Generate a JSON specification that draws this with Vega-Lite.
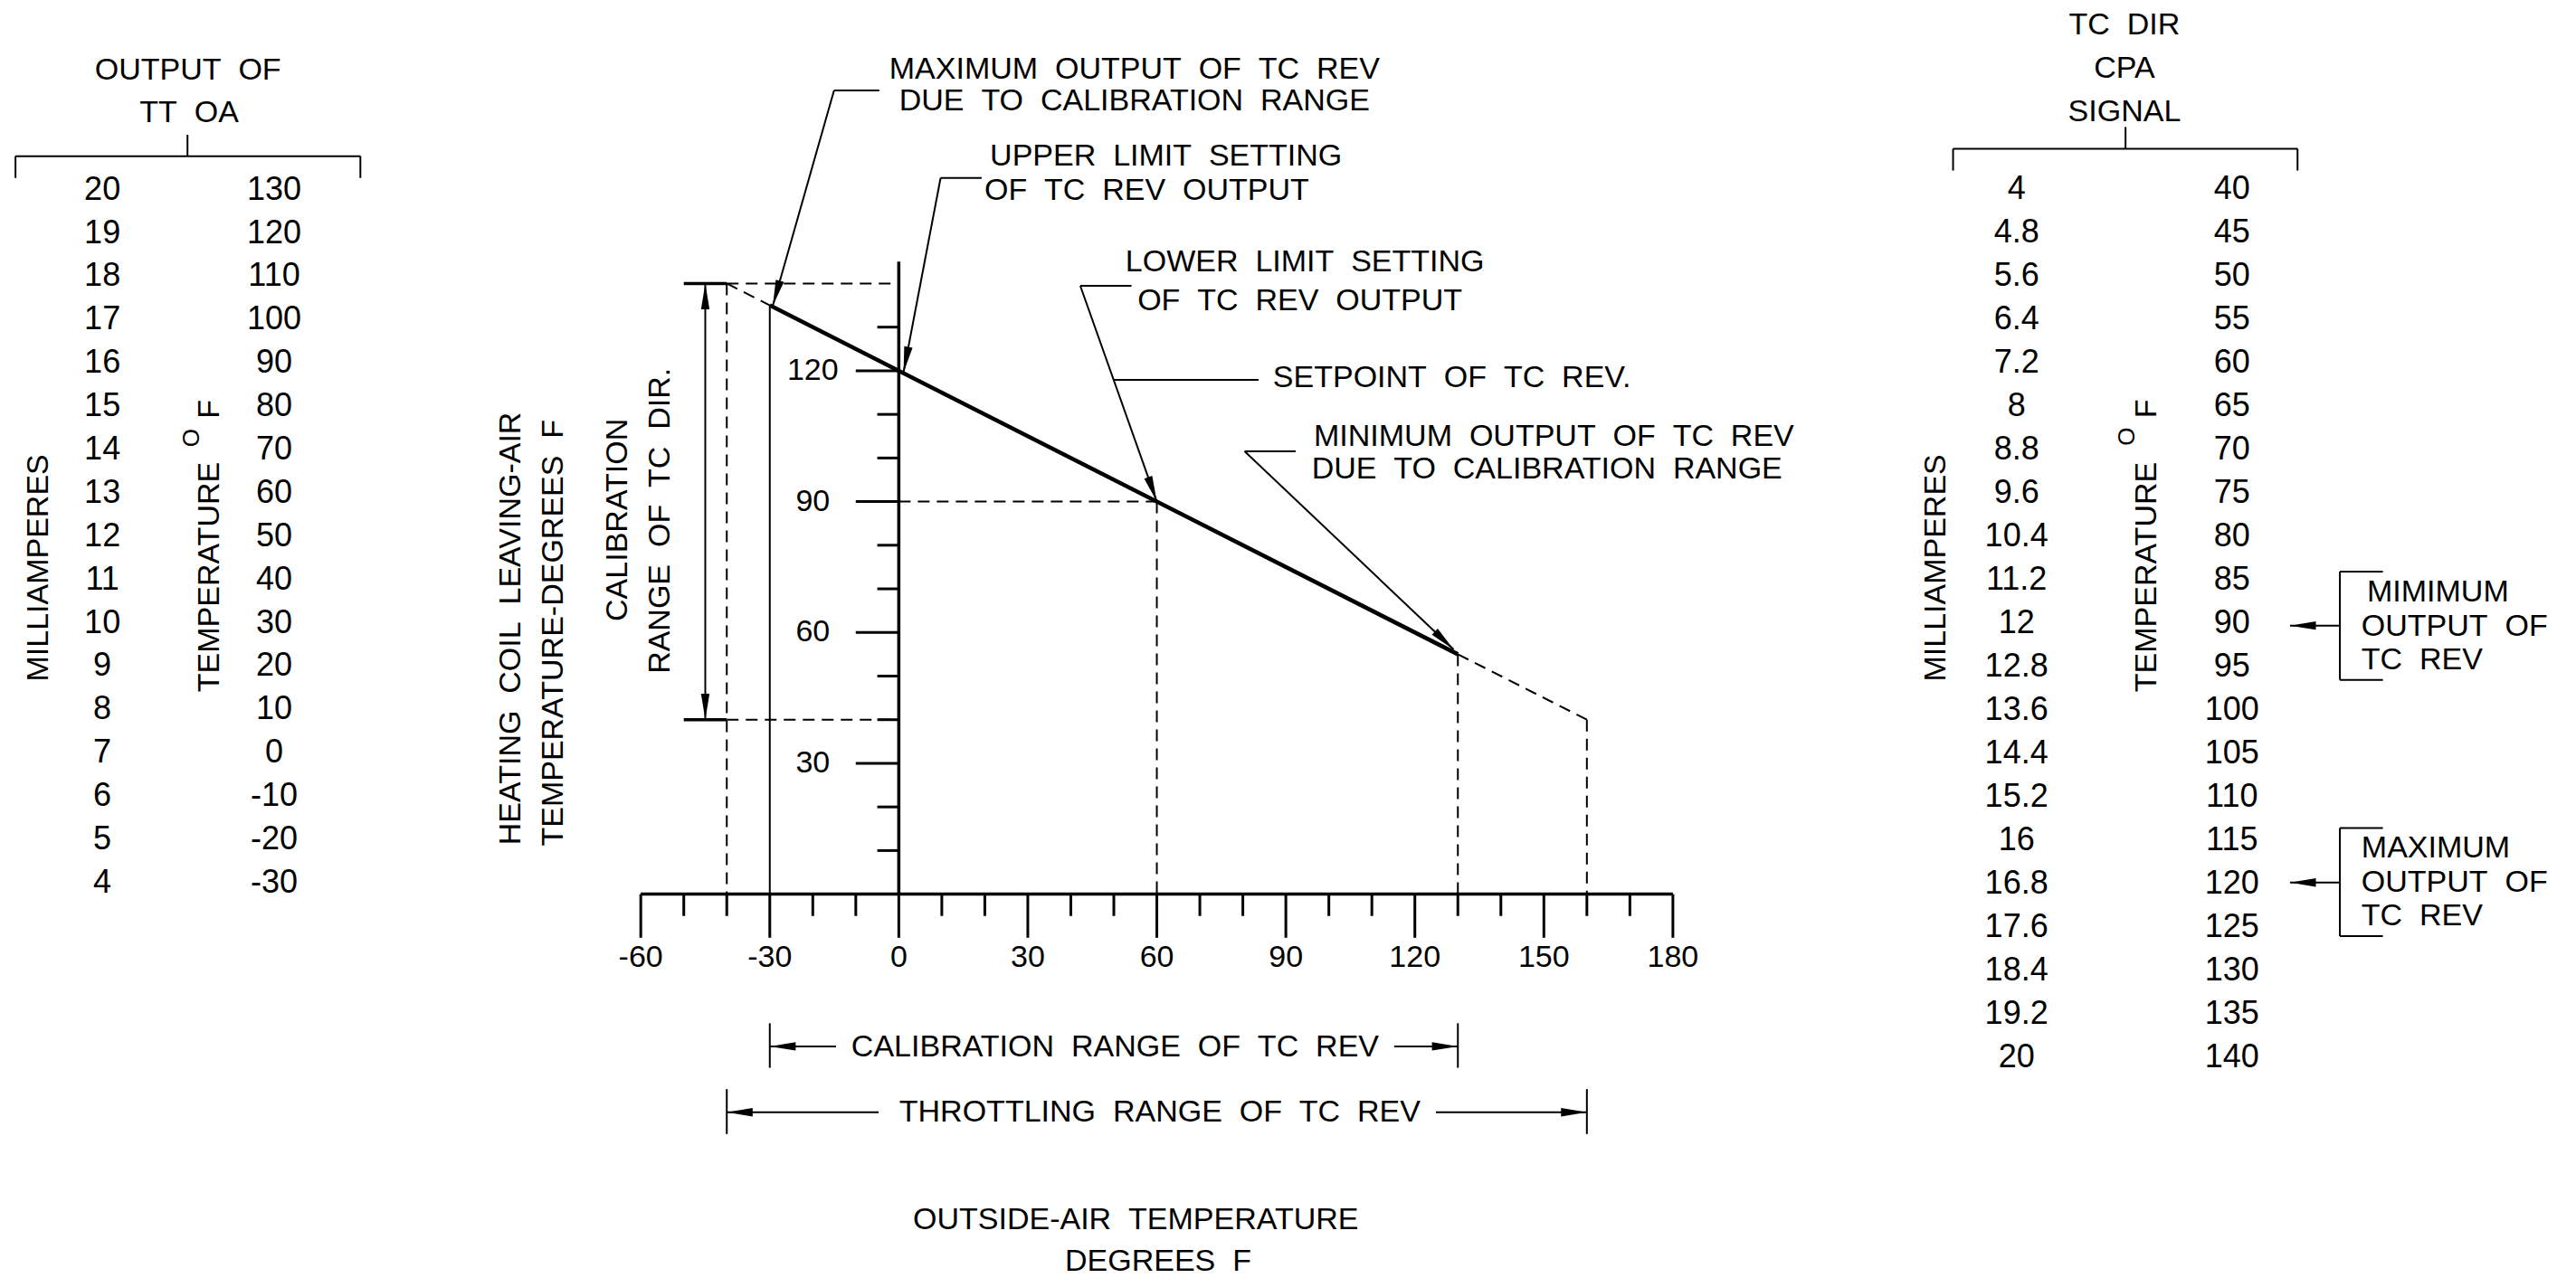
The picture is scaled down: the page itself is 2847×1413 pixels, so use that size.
{
  "$schema": "https://vega.github.io/schema/vega-lite/v6.json",
  "width": 2847,
  "height": 1413,
  "autosize": {"type": "none"},
  "padding": 0,
  "background": "white",
  "config": {
    "view": {"stroke": null},
    "mark": {"color": "black"},
    "text": {"font": "Liberation Sans", "fontSize": 34, "color": "black", "baseline": "middle"}
  },
  "datasets": {
    "xticks": [{"x":-60},{"x":-50},{"x":-40},{"x":-30},{"x":-20},{"x":-10},{"x":0},{"x":10},{"x":20},{"x":30},{"x":40},{"x":50},{"x":60},{"x":70},{"x":80},{"x":90},{"x":100},{"x":110},{"x":120},{"x":130},{"x":140},{"x":150},{"x":160},{"x":170},{"x":180}],
    "yticks": [{"y":10},{"y":20},{"y":30},{"y":40},{"y":50},{"y":60},{"y":70},{"y":80},{"y":90},{"y":100},{"y":110},{"y":120},{"y":130}],
    "setpoint": [{"x":-30,"y":135},{"x":130,"y":55}],
    "dashed": [
      {"x":-40,"y":140,"x2":-30,"y2":135},
      {"x":130,"y":55,"x2":160,"y2":40},
      {"x":-40,"y":140,"x2":0,"y2":140},
      {"x":-40,"y":40,"x2":0,"y2":40},
      {"x":0,"y":90,"x2":60,"y2":90},
      {"x":-40,"y":140,"x2":-40,"y2":0},
      {"x":60,"y":90,"x2":60,"y2":0},
      {"x":130,"y":55,"x2":130,"y2":0},
      {"x":160,"y":40,"x2":160,"y2":0}
    ],
    "axisLines": [
      {"x":-60,"y":0,"x2":180,"y2":0},
      {"x":0,"y":0,"x2":0,"y2":145},
      {"x":-50,"y":140,"x2":-40,"y2":140},
      {"x":-50,"y":40,"x2":-40,"y2":40}
    ],
    "leaders": [
      {"x":-30,"y":135,"x2":-30,"y2":0},
      {"x":-45,"y":40,"x2":-45,"y2":140},
      {"x":-15.06,"y":184.26,"x2":-4.54,"y2":184.26},
      {"x":-15.06,"y":184.26,"x2":-29.3,"y2":134.9},
      {"x":9.72,"y":164.21,"x2":19.27,"y2":164.21},
      {"x":9.72,"y":164.21,"x2":1.1,"y2":119.63},
      {"x":42.2,"y":139.47,"x2":54.1,"y2":139.47},
      {"x":42.2,"y":139.47,"x2":60,"y2":90},
      {"x":50.0,"y":117.91,"x2":83.65,"y2":117.91},
      {"x":80.42,"y":101.53,"x2":92.28,"y2":101.53},
      {"x":80.42,"y":101.53,"x2":129,"y2":56.1},
      {"x":-30,"y":-29.6,"x2":-30,"y2":-39.8},
      {"x":130,"y":-29.6,"x2":130,"y2":-39.8},
      {"x":-30,"y":-34.9,"x2":-14.6,"y2":-34.9},
      {"x":115.2,"y":-34.9,"x2":130,"y2":-34.9},
      {"x":-40,"y":-44.7,"x2":-40,"y2":-55.0},
      {"x":160,"y":-44.7,"x2":160,"y2":-55.0},
      {"x":-40,"y":-50,"x2":-4.7,"y2":-50},
      {"x":124.9,"y":-50,"x2":160,"y2":-50},
      {"x":-165.4,"y":174.1,"x2":-165.4,"y2":169.2},
      {"x":-205.4,"y":169.2,"x2":-125.2,"y2":169.2},
      {"x":-205.4,"y":169.2,"x2":-205.4,"y2":164.2},
      {"x":-125.2,"y":169.2,"x2":-125.2,"y2":164.2},
      {"x":285.25,"y":175.9,"x2":285.25,"y2":170.9},
      {"x":245.15,"y":170.9,"x2":325.25,"y2":170.9},
      {"x":245.15,"y":170.9,"x2":245.15,"y2":165.9},
      {"x":325.25,"y":170.9,"x2":325.25,"y2":165.9},
      {"x":335.1,"y":73.95,"x2":335.1,"y2":49.13},
      {"x":335.1,"y":73.95,"x2":345.1,"y2":73.95},
      {"x":335.1,"y":49.13,"x2":345.1,"y2":49.13},
      {"x":323.5,"y":61.57,"x2":335.1,"y2":61.57},
      {"x":335.1,"y":15.18,"x2":335.1,"y2":-9.62},
      {"x":335.1,"y":15.18,"x2":345.1,"y2":15.18},
      {"x":335.1,"y":-9.62,"x2":345.1,"y2":-9.62},
      {"x":323.5,"y":2.66,"x2":335.1,"y2":2.66}
    ],
    "arrows": [
      {"x":-29.3,"y":134.9,"angle":195.9},
      {"x":1.1,"y":119.63,"angle":190.8},
      {"x":60,"y":90,"angle":160.5},
      {"x":129,"y":56.1,"angle":133.5},
      {"x":-45,"y":140,"angle":0},
      {"x":-45,"y":40,"angle":180},
      {"x":-30,"y":-34.9,"angle":270},
      {"x":130,"y":-34.9,"angle":90},
      {"x":-40,"y":-50,"angle":270},
      {"x":160,"y":-50,"angle":90},
      {"x":323.5,"y":61.57,"angle":270},
      {"x":323.5,"y":2.66,"angle":270}
    ],
    "centerText": [
      {"x":-165.3,"y":188.9,"text":"OUTPUT\u00a0\u00a0OF"},
      {"x":-165.0,"y":179.1,"text":"TT\u00a0\u00a0OA"},
      {"x":54.8,"y":189.1,"text":"MAXIMUM\u00a0\u00a0OUTPUT\u00a0\u00a0OF\u00a0\u00a0TC\u00a0\u00a0REV"},
      {"x":54.8,"y":181.8,"text":"DUE\u00a0\u00a0TO\u00a0\u00a0CALIBRATION\u00a0\u00a0RANGE"},
      {"x":50.3,"y":-35.1,"text":"CALIBRATION\u00a0\u00a0RANGE\u00a0\u00a0OF\u00a0\u00a0TC\u00a0\u00a0REV"},
      {"x":60.7,"y":-50.0,"text":"THROTTLING\u00a0\u00a0RANGE\u00a0\u00a0OF\u00a0\u00a0TC\u00a0\u00a0REV"},
      {"x":55.1,"y":-74.8,"text":"OUTSIDE-AIR\u00a0\u00a0TEMPERATURE"},
      {"x":60.3,"y":-84.2,"text":"DEGREES\u00a0\u00a0F"},
      {"x":285,"y":199.2,"text":"TC\u00a0\u00a0DIR"},
      {"x":285,"y":189.2,"text":"CPA"},
      {"x":285,"y":179.3,"text":"SIGNAL"}
    ],
    "leftText": [
      {"x":21.2,"y":169.2,"text":"UPPER\u00a0\u00a0LIMIT\u00a0\u00a0SETTING"},
      {"x":19.9,"y":161.3,"text":"OF\u00a0\u00a0TC\u00a0\u00a0REV\u00a0\u00a0OUTPUT"},
      {"x":52.7,"y":144.9,"text":"LOWER\u00a0\u00a0LIMIT\u00a0\u00a0SETTING"},
      {"x":55.5,"y":136.0,"text":"OF\u00a0\u00a0TC\u00a0\u00a0REV\u00a0\u00a0OUTPUT"},
      {"x":87.0,"y":118.4,"text":"SETPOINT\u00a0\u00a0OF\u00a0\u00a0TC\u00a0\u00a0REV."},
      {"x":96.5,"y":104.8,"text":"MINIMUM\u00a0\u00a0OUTPUT\u00a0\u00a0OF\u00a0\u00a0TC\u00a0\u00a0REV"},
      {"x":96.0,"y":97.4,"text":"DUE\u00a0\u00a0TO\u00a0\u00a0CALIBRATION\u00a0\u00a0RANGE"},
      {"x":341.4,"y":69.2,"text":"MIMIMUM"},
      {"x":340.1,"y":61.4,"text":"OUTPUT\u00a0\u00a0OF"},
      {"x":340.1,"y":53.6,"text":"TC\u00a0\u00a0REV"},
      {"x":340.1,"y":10.4,"text":"MAXIMUM"},
      {"x":340.1,"y":2.7,"text":"OUTPUT\u00a0\u00a0OF"},
      {"x":340.1,"y":-5.1,"text":"TC\u00a0\u00a0REV"}
    ],
    "rotText": [
      {"x":-199.9,"y":74.8,"text":"MILLIAMPERES"},
      {"x":-160.1,"y":72.7,"text":"TEMPERATURE"},
      {"x":-160.2,"y":111.2,"text":"F"},
      {"x":-90.1,"y":60.9,"text":"HEATING\u00a0\u00a0COIL\u00a0\u00a0LEAVING-AIR"},
      {"x":-80.2,"y":59.9,"text":"TEMPERATURE-DEGREES\u00a0\u00a0F"},
      {"x":-65.3,"y":85.8,"text":"CALIBRATION"},
      {"x":-55.4,"y":85.6,"text":"RANGE\u00a0\u00a0OF\u00a0\u00a0TC\u00a0\u00a0DIR."},
      {"x":241.2,"y":74.8,"text":"MILLIAMPERES"},
      {"x":290.3,"y":72.7,"text":"TEMPERATURE"},
      {"x":290.3,"y":111.3,"text":"F"}
    ],
    "degO": [
      {"x":-164.3,"y":104.6,"text":"O"},
      {"x":285.6,"y":104.9,"text":"O"}
    ],
    "ttOA": [
      {"mA":20,"degF":130},{"mA":19,"degF":120},{"mA":18,"degF":110},{"mA":17,"degF":100},
      {"mA":16,"degF":90},{"mA":15,"degF":80},{"mA":14,"degF":70},{"mA":13,"degF":60},
      {"mA":12,"degF":50},{"mA":11,"degF":40},{"mA":10,"degF":30},{"mA":9,"degF":20},
      {"mA":8,"degF":10},{"mA":7,"degF":0},{"mA":6,"degF":-10},{"mA":5,"degF":-20},{"mA":4,"degF":-30}
    ],
    "cpa": [
      {"mA":4,"degF":40},{"mA":4.8,"degF":45},{"mA":5.6,"degF":50},{"mA":6.4,"degF":55},
      {"mA":7.2,"degF":60},{"mA":8,"degF":65},{"mA":8.8,"degF":70},{"mA":9.6,"degF":75},
      {"mA":10.4,"degF":80},{"mA":11.2,"degF":85},{"mA":12,"degF":90},{"mA":12.8,"degF":95},
      {"mA":13.6,"degF":100},{"mA":14.4,"degF":105},{"mA":15.2,"degF":110},{"mA":16,"degF":115},
      {"mA":16.8,"degF":120},{"mA":17.6,"degF":125},{"mA":18.4,"degF":130},{"mA":19.2,"degF":135},
      {"mA":20,"degF":140}
    ]
  },
  "layer": [
    {
      "layer": [
        {
          "data": {"name": "dashed"},
          "mark": {"type": "rule", "strokeDash": [13, 8], "strokeWidth": 2},
          "encoding": {
            "x": {"field": "x", "type": "quantitative", "scale": {"domain": [-209, 390], "nice": false, "zero": false}, "axis": null},
            "y": {"field": "y", "type": "quantitative", "scale": {"domain": [-88, 205], "nice": false, "zero": false}, "axis": null},
            "x2": {"field": "x2"}, "y2": {"field": "y2"}
          }
        },
        {
          "data": {"name": "leaders"},
          "mark": {"type": "rule", "strokeWidth": 2},
          "encoding": {
            "x": {"field": "x", "type": "quantitative"},
            "y": {"field": "y", "type": "quantitative"},
            "x2": {"field": "x2"}, "y2": {"field": "y2"}
          }
        },
        {
          "data": {"name": "axisLines"},
          "mark": {"type": "rule", "strokeWidth": 3.5},
          "encoding": {
            "x": {"field": "x", "type": "quantitative"},
            "y": {"field": "y", "type": "quantitative"},
            "x2": {"field": "x2"}, "y2": {"field": "y2"}
          }
        },
        {
          "data": {"name": "setpoint"},
          "mark": {"type": "line", "strokeWidth": 4.5},
          "encoding": {
            "x": {"field": "x", "type": "quantitative"},
            "y": {"field": "y", "type": "quantitative"}
          }
        },
        {
          "data": {"name": "xticks"},
          "transform": [{"filter": "datum.x % 30 === 0"}],
          "mark": {"type": "rule", "strokeWidth": 3},
          "encoding": {
            "x": {"field": "x", "type": "quantitative"},
            "y": {"datum": 0, "type": "quantitative"},
            "y2": {"datum": -10}
          }
        },
        {
          "data": {"name": "xticks"},
          "transform": [{"filter": "datum.x % 30 !== 0"}],
          "mark": {"type": "rule", "strokeWidth": 3},
          "encoding": {
            "x": {"field": "x", "type": "quantitative"},
            "y": {"datum": 0, "type": "quantitative"},
            "y2": {"datum": -5}
          }
        },
        {
          "data": {"name": "yticks"},
          "transform": [{"filter": "datum.y % 30 === 0"}],
          "mark": {"type": "rule", "strokeWidth": 3},
          "encoding": {
            "y": {"field": "y", "type": "quantitative"},
            "x": {"datum": 0, "type": "quantitative"},
            "x2": {"datum": -10}
          }
        },
        {
          "data": {"name": "yticks"},
          "transform": [{"filter": "datum.y % 30 !== 0"}],
          "mark": {"type": "rule", "strokeWidth": 3},
          "encoding": {
            "y": {"field": "y", "type": "quantitative"},
            "x": {"datum": 0, "type": "quantitative"},
            "x2": {"datum": -5}
          }
        },
        {
          "data": {"name": "xticks"},
          "transform": [{"filter": "datum.x % 30 === 0"}],
          "mark": {"type": "text", "align": "center"},
          "encoding": {
            "x": {"field": "x", "type": "quantitative"},
            "y": {"datum": -14.6, "type": "quantitative"},
            "text": {"field": "x", "type": "nominal"}
          }
        },
        {
          "data": {"name": "yticks"},
          "transform": [{"filter": "datum.y % 30 === 0"}],
          "mark": {"type": "text", "align": "center"},
          "encoding": {
            "y": {"field": "y", "type": "quantitative"},
            "x": {"datum": -20, "type": "quantitative"},
            "text": {"field": "y", "type": "nominal"}
          }
        },
        {
          "data": {"name": "arrows"},
          "mark": {"type": "point", "shape": "M0,0L-0.36,2.2L0.36,2.2Z", "filled": true, "size": 676, "opacity": 1, "strokeWidth": 0},
          "encoding": {
            "x": {"field": "x", "type": "quantitative"},
            "y": {"field": "y", "type": "quantitative"},
            "angle": {"field": "angle", "type": "quantitative", "scale": null}
          }
        },
        {
          "data": {"name": "centerText"},
          "mark": {"type": "text", "align": "center"},
          "encoding": {
            "x": {"field": "x", "type": "quantitative"},
            "y": {"field": "y", "type": "quantitative"},
            "text": {"field": "text", "type": "nominal"}
          }
        },
        {
          "data": {"name": "leftText"},
          "mark": {"type": "text", "align": "left"},
          "encoding": {
            "x": {"field": "x", "type": "quantitative"},
            "y": {"field": "y", "type": "quantitative"},
            "text": {"field": "text", "type": "nominal"}
          }
        },
        {
          "data": {"name": "rotText"},
          "mark": {"type": "text", "align": "center", "angle": 270},
          "encoding": {
            "x": {"field": "x", "type": "quantitative"},
            "y": {"field": "y", "type": "quantitative"},
            "text": {"field": "text", "type": "nominal"}
          }
        },
        {
          "data": {"name": "degO"},
          "mark": {"type": "text", "align": "center", "angle": 270, "fontSize": 26},
          "encoding": {
            "x": {"field": "x", "type": "quantitative"},
            "y": {"field": "y", "type": "quantitative"},
            "text": {"field": "text", "type": "nominal"}
          }
        }
      ]
    },
    {
      "data": {"name": "ttOA"},
      "layer": [
        {
          "mark": {"type": "text", "align": "center", "fontSize": 36},
          "encoding": {
            "y": {"field": "mA", "type": "quantitative", "scale": {"domain": [-5.13, 24.38], "nice": false, "zero": false}, "axis": null},
            "x": {"datum": -185.2, "type": "quantitative"},
            "text": {"field": "mA", "type": "nominal"}
          }
        },
        {
          "mark": {"type": "text", "align": "center", "fontSize": 36},
          "encoding": {
            "y": {"field": "mA", "type": "quantitative"},
            "x": {"datum": -145.25, "type": "quantitative"},
            "text": {"field": "degF", "type": "nominal"}
          }
        }
      ]
    },
    {
      "data": {"name": "cpa"},
      "layer": [
        {
          "mark": {"type": "text", "align": "center", "fontSize": 36},
          "encoding": {
            "y": {"field": "mA", "type": "quantitative", "scale": {"domain": [0.522, 24.07], "reverse": true, "nice": false, "zero": false}, "axis": null},
            "x": {"datum": 259.9, "type": "quantitative"},
            "text": {"field": "mA", "type": "nominal"}
          }
        },
        {
          "mark": {"type": "text", "align": "center", "fontSize": 36},
          "encoding": {
            "y": {"field": "mA", "type": "quantitative"},
            "x": {"datum": 310, "type": "quantitative"},
            "text": {"field": "degF", "type": "nominal"}
          }
        }
      ]
    }
  ],
  "resolve": {"scale": {"y": "independent"}}
}
